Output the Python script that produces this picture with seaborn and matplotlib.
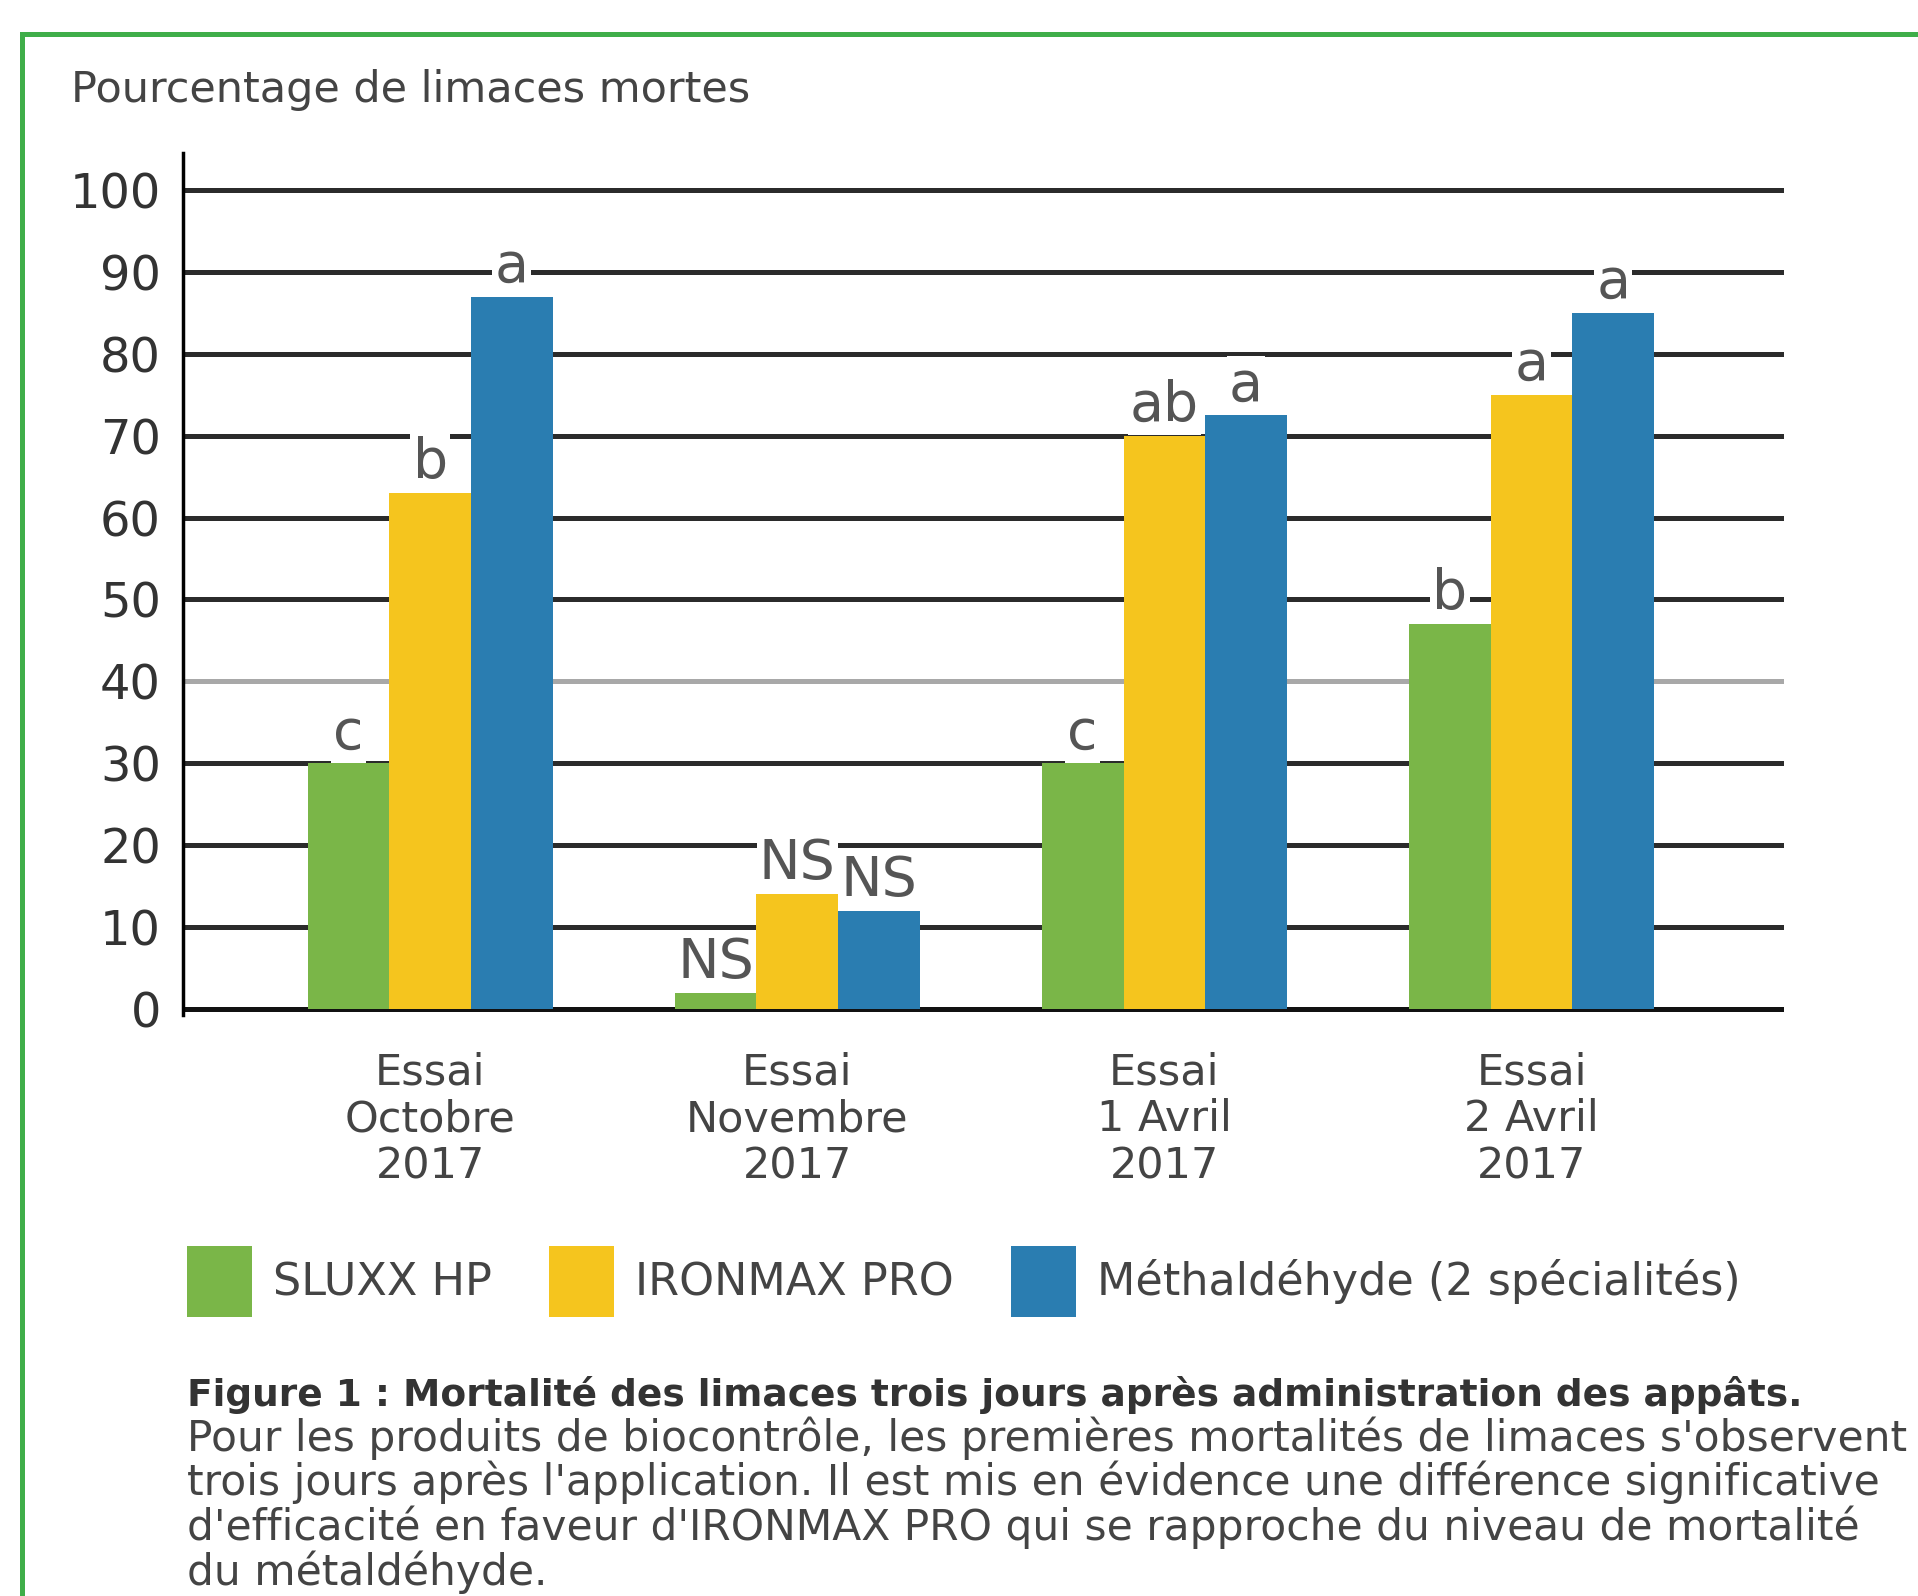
import pandas as pd
import matplotlib.pyplot as plt
import seaborn as sns
from matplotlib.patches import Rectangle

# --- Data ---
essais = ["Essai\nOctobre\n2017", "Essai\nNovembre\n2017", "Essai\n1 Avril\n2017", "Essai\n2 Avril\n2017"]
produits = ["SLUXX HP", "IRONMAX PRO", "Méthaldéhyde (2 spécialités)"]
sluxx = [30, 2, 30, 47]
ironmax = [63, 14, 70, 75]
metaldehyde = [87, 12, 72.5, 85]
lettres_sluxx = ["c", "NS", "c", "b"]
lettres_ironmax = ["b", "NS", "ab", "a"]
lettres_metal = ["a", "NS", "a", "a"]
yticks = [0, 10, 20, 30, 40, 50, 60, 70, 80, 90, 100]

couleurs = ["#7ab648", "#f5c51e", "#2a7db1"]

df = pd.DataFrame({
    "essai": essais * 3,
    "produit": [p for p in produits for _ in essais],
    "valeur": sluxx + ironmax + metaldehyde,
})

sns.set_style("white")
plt.rcParams["font.family"] = ["DejaVu Sans"]

fig = plt.figure(figsize=(19.18, 15.96), dpi=100)
ax = fig.add_axes([0.0954, 0.364, 0.8346, 0.540])

sns.barplot(data=df, x="essai", y="valeur", hue="produit", hue_order=produits,
            palette=couleurs, width=0.667, saturation=1, ax=ax,
            linewidth=0, errorbar=None)

# --- Axes styling ---
ax.set_ylim(-0.75, 104.5)
ax.set_xlim(-0.673, 3.687)
ax.set_yticks(yticks)
ax.set_xlabel("")
ax.set_ylabel("")
ax.set_axisbelow(True)
ax.yaxis.grid(True, color="#2b2b2b", linewidth=3.6)
ax.xaxis.grid(False)
ax.get_ygridlines()[4].set_color("#a8a8a8")
ax.get_ygridlines()[0].set_color("#111111")
for s in ["top", "right", "bottom"]:
    ax.spines[s].set_visible(False)
ax.spines["left"].set_color("black")
ax.spines["left"].set_linewidth(2.5)
ax.tick_params(axis="y", length=0, pad=16, labelsize=34.5, labelcolor="#333333")
ax.tick_params(axis="x", length=0, pad=26, labelsize=31, labelcolor="#444444")
for lab in ax.get_xticklabels():
    lab.set_linespacing(1.15)

# --- Significance letters ---
for cont, lettres in zip(ax.containers, [lettres_sluxx, lettres_ironmax, lettres_metal]):
    ax.bar_label(cont, labels=lettres, padding=2, fontsize=40, color="#555555",
                 bbox=dict(facecolor="white", edgecolor="none", pad=1.5))

# --- Legend ---
ax.legend(loc="center left", bbox_to_anchor=(-0.0225, -0.309), ncol=3, frameon=False,
          fontsize=32, handlelength=1.46, handleheight=2.07, handletextpad=0.47,
          columnspacing=1.29, labelcolor="#444444")

# --- Title and caption ---
fig.text(0.037, 0.9435, "Pourcentage de limaces mortes", fontsize=31, color="#444444",
         va="center", ha="left")
fig.text(0.0975, 0.1262, "Figure 1 : Mortalité des limaces trois jours après administration des appâts.",
         fontsize=27, fontweight="bold", color="#333333", va="center", ha="left")
fig.text(0.0975, 0.1125,
         "Pour les produits de biocontrôle, les premières mortalités de limaces s'observent\n"
         "trois jours après l'application. Il est mis en évidence une différence significative\n"
         "d'efficacité en faveur d'IRONMAX PRO qui se rapproche du niveau de mortalité\n"
         "du métaldéhyde.",
         fontsize=30.5, color="#444444", va="top", ha="left", linespacing=1.03)

# --- Green frame ---
fig.patches.append(Rectangle((0.0115, -0.2), 1.2, 1.1787, transform=fig.transFigure,
                             fill=False, edgecolor="#3fae49", linewidth=3.6))

fig.savefig("out.png", dpi=100)
